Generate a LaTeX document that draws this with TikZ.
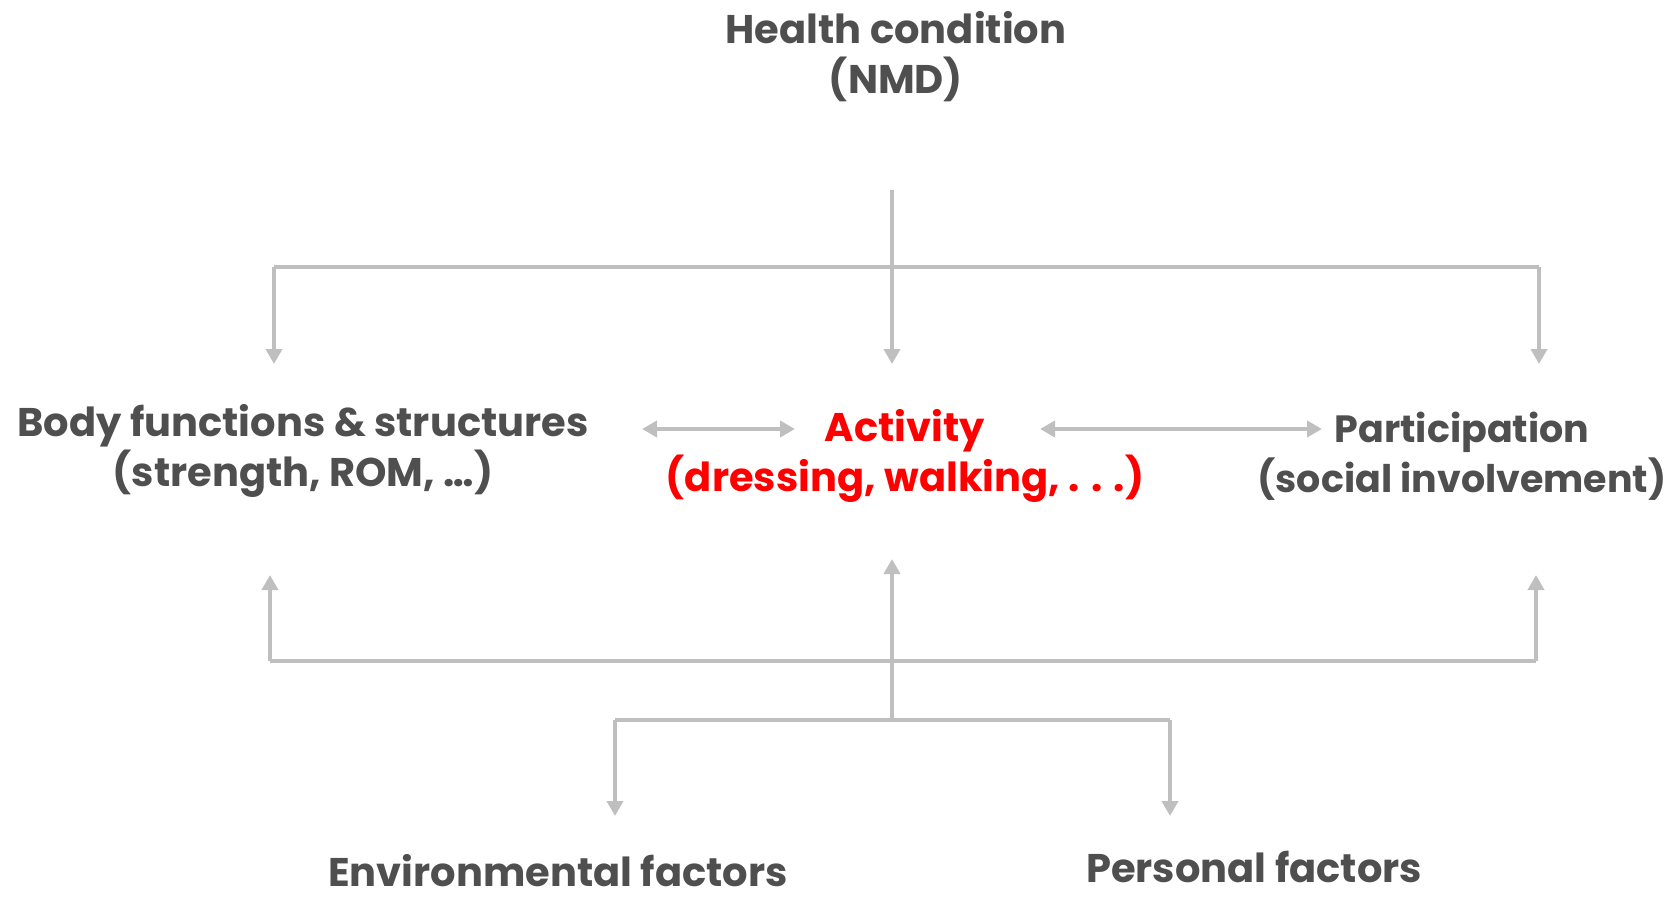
\documentclass[tikz,border=0pt]{standalone}
\usepackage{fontspec}
\setmainfont{Poppins}
\usetikzlibrary{arrows.meta}
\definecolor{txtgray}{HTML}{4F4F4F}
\definecolor{linegray}{HTML}{BFBFBF}
\begin{document}
\begin{tikzpicture}[x=0.5pt,y=-0.5pt,
  lbl/.style={font=\fontsize{20}{25}\selectfont\bfseries, text=txtgray, align=center, inner sep=0pt},
  smlbl/.style={lbl, font=\fontsize{19}{25}\selectfont\bfseries},
  redlbl/.style={lbl, text=red},
  conn/.style={draw=linegray, line width=2pt},
  arr/.style={conn, -{Triangle[width=8pt,length=7.5pt]}},
  darr/.style={conn, {Triangle[width=8pt,length=7.5pt]}-{Triangle[width=8pt,length=7.5pt]}}]
\useasboundingbox (0,0) rectangle (1676,900);
\node[lbl] (health) at (896,57) {Health condition\\(NMD)};
\node[lbl] (body) at (303,451) {Body functions \& structures\\(strength, ROM, \ldots)};
\node[redlbl] (act) at (905,456) {Activity\\(dressing, walking, . . .)};
\node[smlbl] (part) at (1462,456) {Participation\\(social involvement)};
\node[lbl] (env) at (558,871) {Environmental factors};
\node[lbl] (pers) at (1254,867) {Personal factors};
% top tree
\coordinate (hs) at (892,190);
\coordinate (hj) at (892,267);
\coordinate (tl) at (274,267);
\coordinate (tr) at (1539,267);
\coordinate (tlend) at (274,364);
\coordinate (tmend) at (892,364);
\coordinate (trend) at (1539,364);
\draw[conn] (tl) -- (tr);
\draw[arr] (hs) -- (tmend);
\draw[arr] (tl) -- (tlend);
\draw[arr] (tr) -- (trend);
% horizontal double arrows
\coordinate (la) at (642,429);
\coordinate (lb) at (795,429);
\coordinate (ra) at (1040,429);
\coordinate (rb) at (1322,429);
\draw[darr] (la) -- (lb);
\draw[darr] (ra) -- (rb);
% bottom tree
\coordinate (bl) at (270,661);
\coordinate (br) at (1536,661);
\coordinate (blend) at (270,575);
\coordinate (brend) at (1536,575);
\coordinate (bj) at (892,720);
\coordinate (bmend) at (892,559);
\coordinate (el) at (615,720);
\coordinate (er) at (1170,720);
\coordinate (elend) at (615,816);
\coordinate (erend) at (1170,816);
\draw[conn] (bl) -- (br);
\draw[arr] (bl) -- (blend);
\draw[arr] (br) -- (brend);
\draw[arr] (bj) -- (bmend);
\draw[conn] (el) -- (er);
\draw[arr] (el) -- (elend);
\draw[arr] (er) -- (erend);
\end{tikzpicture}
\end{document}
